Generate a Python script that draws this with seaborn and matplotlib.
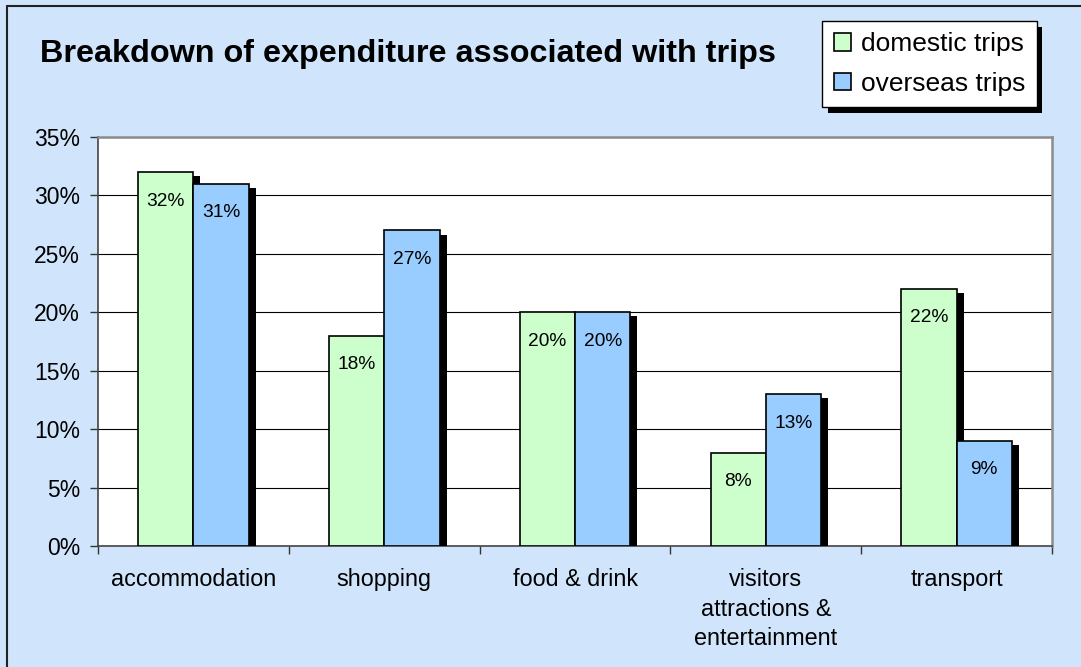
import numpy as np
import pandas as pd
import matplotlib
matplotlib.use("Agg")
import matplotlib.pyplot as plt
import matplotlib.patheffects as pe
from matplotlib.patches import Patch
from matplotlib.lines import Line2D
from matplotlib.ticker import FuncFormatter, FixedLocator
import seaborn as sns

categories = ["accommodation", "shopping", "food & drink",
              "visitors\nattractions &\nentertainment", "transport"]
domestic = [32, 18, 20, 8, 22]
overseas = [31, 27, 20, 13, 9]
series_names = ["domestic trips", "overseas trips"]
colors = ["#ccffcc", "#99ccff"]
yticks = [0, 5, 10, 15, 20, 25, 30, 35]

df = pd.DataFrame({
    "category": categories * 2,
    "series": [series_names[0]] * len(categories) + [series_names[1]] * len(categories),
    "value": domestic + overseas,
})

sns.set_theme(style="white")
plt.rcParams["font.family"] = ["Liberation Sans", "DejaVu Sans"]
plt.rcParams["text.color"] = "black"
plt.rcParams["xtick.color"] = "black"
plt.rcParams["ytick.color"] = "black"

bg = "#d0e5fb"
fig = plt.figure(figsize=(10.81, 6.67), dpi=100, facecolor=bg)
ax = fig.add_axes([0.0907, 0.1814, 0.9732 - 0.0907, 0.7946 - 0.1814])
ax.set_facecolor("white")

sns.barplot(data=df, x="category", y="value", hue="series", order=categories,
            hue_order=series_names, palette=colors, width=0.58, gap=0,
            edgecolor="black", linewidth=1.2, saturation=1, ax=ax, legend=False,
            zorder=3)

shadow = [pe.SimplePatchShadow(offset=(5, -3), shadow_rgbFace="black", alpha=1.0),
          pe.Normal()]
for p in ax.patches:
    p.set_path_effects(shadow)

for cont, vals in zip(ax.containers, [domestic, overseas]):
    ax.bar_label(cont, labels=[f"{v}%" for v in vals], padding=-27,
                 fontsize=13.8, color="black", zorder=5)

ax.set_xlim(-0.5, len(categories) - 0.5)
ax.set_ylim(0, 35)
ax.yaxis.set_major_locator(FixedLocator(yticks))
ax.yaxis.set_major_formatter(FuncFormatter(lambda v, _: f"{v:.0f}%"))
ax.grid(axis="y", color="black", linewidth=0.8, zorder=0)
ax.set_axisbelow(True)
ax.set_xlabel("")
ax.set_ylabel("")

ax.xaxis.set_minor_locator(FixedLocator(np.arange(-0.5, len(categories), 1.0)))
ax.tick_params(axis="x", which="major", length=0, pad=16, labelsize=16.8,
               labelcolor="black")
ax.tick_params(axis="x", which="minor", length=6, width=1, color="#333333",
               direction="out", bottom=True)
ax.tick_params(axis="y", which="major", length=6, width=1, color="#333333",
               direction="out", left=True, pad=7, labelsize=16.5,
               labelcolor="black")
for lab in ax.get_xticklabels():
    lab.set_ha("center")
    lab.set_va("top")
    lab.set_multialignment("center")
    lab.set_linespacing(1.35)

for s in ["left", "bottom"]:
    ax.spines[s].set_color("#444444")
    ax.spines[s].set_linewidth(1.2)
for s in ["top", "right"]:
    ax.spines[s].set_color("#8c8c8c")
    ax.spines[s].set_linewidth(1.8)

fig.text(0.037, 0.919, "Breakdown of expenditure associated with trips",
         fontsize=23.3, fontweight="bold", ha="left", va="center", color="black")

handles = [Patch(facecolor=c, edgecolor="black", linewidth=1.2) for c in colors]
leg = fig.legend(handles, series_names, loc="upper right",
                 bbox_to_anchor=(0.959, 0.9685), frameon=True, fontsize=19,
                 handlelength=0.65, handleheight=0.65, handletextpad=0.4,
                 labelspacing=0.6, borderpad=0.42, borderaxespad=0,
                 fancybox=False)
for t in leg.get_texts():
    t.set_color("black")
frame = leg.get_frame()
frame.set_edgecolor("black")
frame.set_linewidth(1.0)
frame.set_facecolor("white")
frame.set_alpha(1)
frame.set_path_effects([pe.SimplePatchShadow(offset=(4, -4), shadow_rgbFace="black", alpha=1.0),
                        pe.Normal()])

fig.add_artist(Line2D([0.0065, 0.0065], [0.0, 0.991], transform=fig.transFigure,
                      color="#222222", linewidth=1.5))
fig.add_artist(Line2D([0.0065, 1.0], [0.991, 0.991], transform=fig.transFigure,
                      color="#222222", linewidth=1.5))

fig.savefig("out.png", dpi=100, facecolor=bg)
